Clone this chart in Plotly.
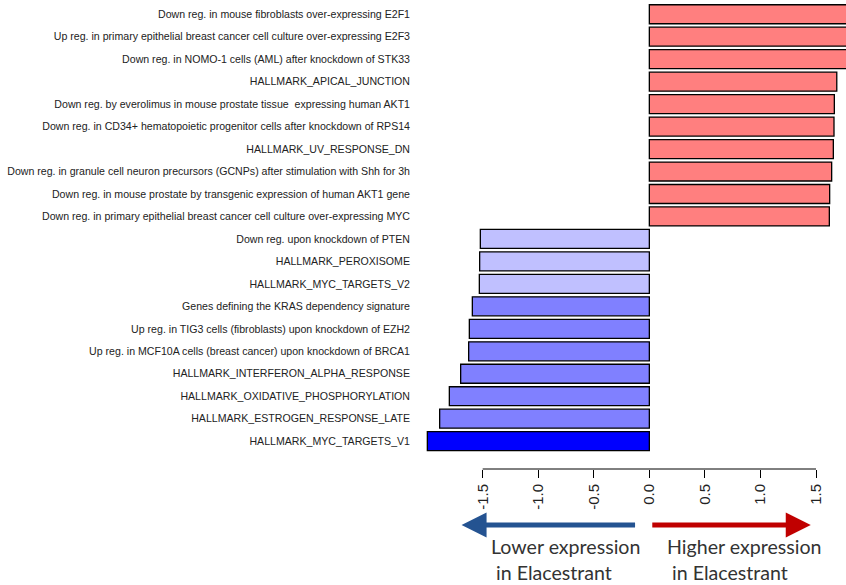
import plotly.graph_objects as go

labels = [
    "Down reg. in mouse fibroblasts over-expressing E2F1",
    "Up reg. in primary epithelial breast cancer cell culture over-expressing E2F3",
    "Down reg. in NOMO-1 cells (AML) after knockdown of STK33",
    "HALLMARK_APICAL_JUNCTION",
    "Down reg. by everolimus in mouse prostate tissue  expressing human AKT1",
    "Down reg. in CD34+ hematopoietic progenitor cells after knockdown of RPS14",
    "HALLMARK_UV_RESPONSE_DN",
    "Down reg. in granule cell neuron precursors (GCNPs) after stimulation with Shh for 3h",
    "Down reg. in mouse prostate by transgenic expression of human AKT1 gene",
    "Down reg. in primary epithelial breast cancer cell culture over-expressing MYC",
    "Down reg. upon knockdown of PTEN",
    "HALLMARK_PEROXISOME",
    "HALLMARK_MYC_TARGETS_V2",
    "Genes defining the KRAS dependency signature",
    "Up reg. in TIG3 cells (fibroblasts) upon knockdown of EZH2",
    "Up reg. in MCF10A cells (breast cancer) upon knockdown of BRCA1",
    "HALLMARK_INTERFERON_ALPHA_RESPONSE",
    "HALLMARK_OXIDATIVE_PHOSPHORYLATION",
    "HALLMARK_ESTROGEN_RESPONSE_LATE",
    "HALLMARK_MYC_TARGETS_V1",
]
values = [1.90, 1.88, 1.86, 1.687, 1.665, 1.662, 1.656, 1.641, 1.623, 1.620,
          -1.521, -1.527, -1.530, -1.593, -1.620, -1.626, -1.698, -1.800, -1.887, -1.998]
bar_colors = ["#FF7F7F"] * 10 + ["#C0C0FF"] * 3 + ["#8080FF"] * 6 + ["#0000FF"]
tick_vals = [-1.5, -1.0, -0.5, 0.0, 0.5, 1.0, 1.5]
tick_text = ["-1.5", "-1.0", "-0.5", "0.0", "0.5", "1.0", "1.5"]

W, H = 846, 585
L, R, T, B = 416, 0, 3, 0
PW, PH = W - L - R, H - T - B


def py(ypx):
    return (H - B - ypx) / PH


def px(xpx):
    return (xpx - L) / PW


fig = go.Figure()
fig.add_trace(go.Bar(
    x=values, y=labels, orientation="h",
    marker=dict(color=bar_colors, line=dict(color="black", width=1.3)),
    hoverinfo="x+y",
))

fig.update_layout(
    width=W, height=H,
    margin=dict(l=L, r=R, t=T, b=B, autoexpand=False),
    paper_bgcolor="white", plot_bgcolor="white",
    showlegend=False, bargap=0.155,
    font=dict(family="Liberation Sans, Arial, sans-serif", color="#222"),
    xaxis=dict(
        range=[-2.1, 1.77], anchor="free", position=py(469),
        tickvals=tick_vals, ticktext=tick_text, tickangle=-90,
        ticks="outside", ticklen=8, tickwidth=1, tickcolor="black",
        showgrid=False, zeroline=False, showline=False,
        tickfont=dict(size=15, color="#222"),
    ),
    yaxis=dict(
        domain=[py(452.4), 1], type="category",
        categoryorder="array", categoryarray=labels,
        range=[19.5, -0.5], showgrid=False, zeroline=False, showline=False,
        ticks="", tickfont=dict(size=10.6, color="#222"), automargin=False,
        ticklabelstandoff=5,
    ),
)

# axis line spanning the tick range
fig.add_shape(type="line", xref="x", yref="paper",
              x0=tick_vals[0], x1=tick_vals[-1], y0=py(469), y1=py(469),
              line=dict(color="black", width=1))

# arrows
fig.add_annotation(x=-1.69, y=py(525), xref="x", yref="paper",
                   ax=175, ay=0, axref="pixel", ayref="pixel",
                   showarrow=True, arrowhead=2, arrowsize=1.0, arrowwidth=5,
                   arrowcolor="#245391", text="")
fig.add_annotation(x=1.453, y=py(525), xref="x", yref="paper",
                   ax=-160, ay=0, axref="pixel", ayref="pixel",
                   showarrow=True, arrowhead=2, arrowsize=1.0, arrowwidth=5,
                   arrowcolor="#C00000", text="")

txt_font = dict(family="Lato, Open Sans, sans-serif", size=19.6, color="#333")
for txt, xpx, ypx in [("Lower expression", 489, 546), ("in Elacestrant", 494, 572),
                      ("Higher expression", 665, 546), ("in Elacestrant", 670, 572)]:
    fig.add_annotation(x=px(xpx), y=py(ypx), xref="paper", yref="paper",
                       xanchor="left", yanchor="middle", showarrow=False,
                       text=txt, font=txt_font)

fig.write_html("out.html")
